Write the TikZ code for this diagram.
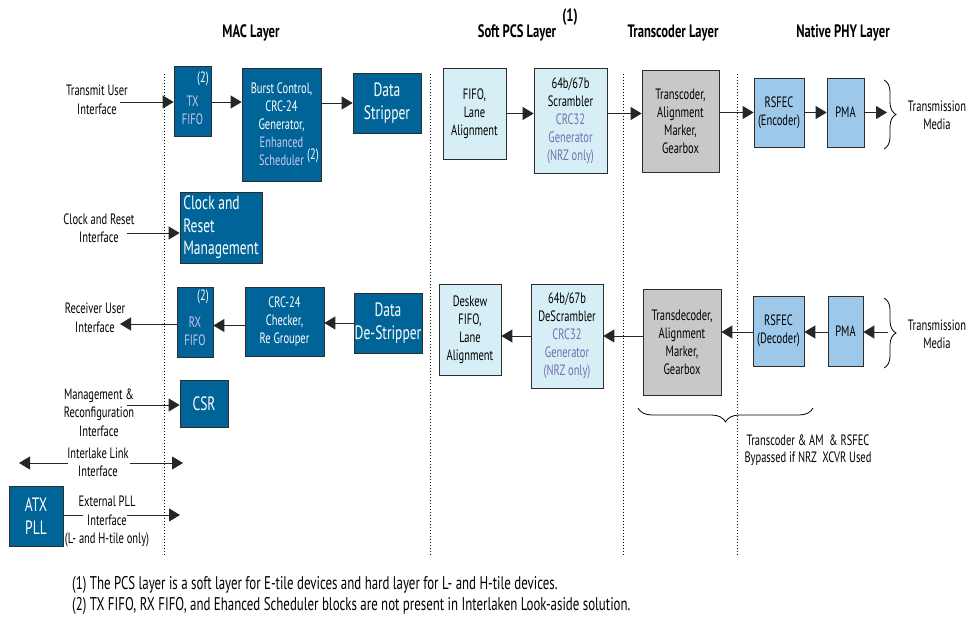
\documentclass[tikz,border=0pt]{standalone}
\usepackage{fontspec}
\setmainfont[FakeStretch=0.7]{PT Sans}
\usetikzlibrary{arrows.meta,decorations.pathreplacing}
\definecolor{dblue}{RGB}{0,100,152}
\definecolor{lcyan}{RGB}{214,238,246}
\definecolor{lgray}{RGB}{200,200,200}
\definecolor{lblue}{RGB}{158,200,234}
\definecolor{lav}{RGB}{204,198,236}
\definecolor{purp}{RGB}{112,112,176}
\definecolor{bord}{RGB}{45,45,45}
\newcommand\myboxfont{\fontsize{15}{18}\selectfont}
\newcommand\mybigfont{\fontsize{19.3}{22.5}\selectfont}
\newcommand\mylblfont{\fontsize{15}{18.5}\selectfont}
\newcommand\myhdfont{\fontsize{18}{18}\selectfont\bfseries}
\newcommand\myftfont{\fontsize{18.4}{21}\selectfont}
\begin{document}
\begin{tikzpicture}[x=1pt,y=-1pt,
  blk/.style={draw=bord, line width=0.8pt, inner sep=0pt, align=center, font=\myboxfont},
  dk/.style={blk, fill=dblue, text=white},
  dkbig/.style={dk, font=\mybigfont},
  lc/.style={blk, fill=lcyan, text=black},
  gy/.style={blk, fill=lgray, text=black},
  lb/.style={blk, fill=lblue, text=black},
  arr/.style={-{Triangle[length=11pt,width=13pt]}, line width=0.9pt, draw=black!85},
  plain/.style={line width=0.9pt, draw=black!85},
  lbl/.style={align=center, font=\mylblfont, inner sep=0pt},
  hdr/.style={font=\myhdfont, inner sep=0pt},
  sepline/.style={line width=0.8pt, dash pattern=on 1.3pt off 1.7pt},
  brc/.style={decorate, line width=0.8pt, decoration={brace, amplitude=12pt}}
]
\fill[white] (0,0) rectangle (971,617);
\path[use as bounding box] (0,0) rectangle (971,617);

% headers
\node[hdr] (hmac) at (251,33) {MAC Layer};
\node[hdr] (hpcs) at (517,33) {Soft PCS Layer};
\node[hdr] (hone) at (570,17) {(1)};
\node[hdr] (htr) at (673,33) {Transcoder Layer};
\node[hdr] (hphy) at (843,33) {Native PHY Layer};

% separators
\draw[sepline] (164,74) -- (164,556);
\draw[sepline] (430,74) -- (430,556);
\draw[sepline] (623,74) -- (623,556);
\draw[sepline] (737,74) -- (737,556);

% TX path
\node[dk, minimum width=37, minimum height=70, text=lav] (txfifo) at (192.5,101) {\vphantom{(}\\TX\\FIFO};
\node[inner sep=0pt, text=white, font=\myboxfont] (txn) at (203,79) {(2)};
\node[dk, minimum width=79, minimum height=113] (burst) at (281.5,124.5)
  {Burst Control,\\CRC-24\\Generator,\\\textcolor{lav}{Enhanced}\\\textcolor{lav}{Scheduler}\hspace{12pt}};
\node[inner sep=0pt, text=white, font=\myboxfont] (bn) at (313,156) {(2)};
\node[dkbig, minimum width=68, minimum height=60] (strip) at (387,103) {Data\\Stripper};
\node[lc, minimum width=63, minimum height=91] (fifo) at (474.5,113.5) {FIFO,\\Lane\\Alignment};
\node[lc, minimum width=73, minimum height=105] (scr) at (570.5,120.5)
  {64b/67b\\Scrambler\\\textcolor{purp}{CRC32}\\\textcolor{purp}{Generator}\\\textcolor{purp}{(NRZ only)}};
\node[gy, minimum width=77, minimum height=102] (trans) at (680.5,121)
  {Transcoder,\\Alignment\\Marker,\\Gearbox};
\node[lb, minimum width=50, minimum height=69] (rsenc) at (779,112.5) {RSFEC\\(Encoder)};
\node[lb, minimum width=37, minimum height=69] (pma) at (845.5,112.5) {PMA};

\coordinate (txin) at (120,102);
\coordinate (txout) at (887,112.5);
\draw[arr] (txin) -- (txin -| txfifo.west);
\draw[arr] (txin -| txfifo.east) -- (txin -| burst.west);
\draw[arr] (strip.west -| burst.east) -- (strip.west);
\draw[arr] (fifo.east) -- (fifo.east -| scr.west);
\draw[arr] (fifo.east -| scr.east) -- (fifo.east -| trans.west);
\draw[arr] (rsenc.west -| trans.east) -- (rsenc.west);
\draw[arr] (rsenc.east) -- (pma.west);
\draw[arr] (pma.east) -- (txout);

\draw[brc] (884,80) -- (884,149);
\node[lbl] (tm1) at (937,115.5) {Transmission\\Media};

% clock
\node[dkbig, minimum width=82, minimum height=71, align=left] (clk) at (221,227.5)
  {Clock and\\Reset\\Management};
\coordinate (clkin) at (127,233);
\draw[arr] (clkin) -- (clkin -| clk.west);
\node[lbl] (clkl) at (99,228.5) {Clock and Reset\\Interface};

% RX path
\node[dk, minimum width=36, minimum height=70, text=lav] (rxfifo) at (195,322) {\vphantom{(}\\RX\\FIFO};
\node[inner sep=0pt, text=white, font=\myboxfont] (rxn) at (203,297) {(2)};
\node[dk, minimum width=79, minimum height=69] (crc) at (284.5,321.5) {CRC-24\\Checker,\\Re Grouper};
\node[dkbig, minimum width=68, minimum height=60] (destrip) at (388,323) {Data\\De-Stripper};
\node[lc, minimum width=62, minimum height=91] (deskew) at (470,329.5) {Deskew\\FIFO,\\Lane\\Alignment};
\node[lc, minimum width=72, minimum height=104] (descr) at (567,336)
  {64b/67b\\DeScrambler\\\textcolor{purp}{CRC32}\\\textcolor{purp}{Generator}\\\textcolor{purp}{(NRZ only)}};
\node[gy, minimum width=78, minimum height=106] (tdec) at (682,342)
  {Transdecoder,\\Alignment\\Marker,\\Gearbox};
\node[lb, minimum width=51, minimum height=70] (rsdec) at (778.5,331) {RSFEC\\(Decoder)};
\node[lb, minimum width=35, minimum height=70] (pma2) at (845.5,331) {PMA};

\coordinate (rxin) at (888,332);
\coordinate (rxout) at (120,324);
\draw[arr] (rxin) -- (rxin -| pma2.east);
\draw[arr] (rxin -| pma2.west) -- (rxin -| rsdec.east);
\draw[arr] (rxin -| rsdec.west) -- (rxin -| tdec.east);
\draw[arr] (descr.east -| tdec.west) -- (descr.east);
\draw[arr] (descr.west) -- (descr.west -| deskew.east);
\draw[arr] (destrip.west) -- (destrip.west -| crc.east);
\draw[arr] ([yshift=-4pt]crc.west) -- ([yshift=-4pt]crc.west -| rxfifo.east);
\draw[arr] (rxout -| rxfifo.west) -- (rxout);

\draw[brc] (884,298) -- (884,368);
\node[lbl] (tm2) at (937,334.5) {Transmission\\Media};

\draw[brc, decoration={brace, amplitude=14pt}] (813,408) -- (638,408);
\node[lbl, font=\fontsize{15}{16.5}\selectfont] (byp) at (808,450) {Transcoder \& AM~~\& RSFEC\\Bypassed if NRZ~~XCVR Used};

\node[lbl] (txl) at (97,100) {Transmit User\\Interface};
\node[lbl] (rxl) at (95,318) {Receiver User\\Interface};

% CSR
\node[dkbig, minimum width=48, minimum height=47] (csr) at (204,403.5) {CSR};
\coordinate (csrin) at (127,405);
\draw[arr] (csrin) -- (csrin -| csr.west);
\node[lbl] (csrl) at (99,412.5) {Management \&\\Reconfiguration\\Interface};

% Interlake
\coordinate (ilL) at (19,463);
\coordinate (ilA) at (68,463);
\coordinate (ilB) at (130,463);
\coordinate (ilR) at (183,463);
\draw[arr] (ilA) -- (ilL);
\draw[arr] (ilB) -- (ilR);
\node[lbl] (ill) at (98,462.5) {Interlake Link\\Interface};

% ATX PLL
\node[dkbig, minimum width=54, minimum height=60] (atx) at (36,516) {ATX\\PLL};
\coordinate (atxA) at (83,515);
\coordinate (atxB) at (127,515);
\coordinate (atxC) at (180,515);
\draw[plain] (atxA -| atx.east) -- (atxA);
\draw[arr] (atxB) -- (atxC);
\node[lbl] (atxl) at (107,521.5) {External PLL\\Interface\\(L- and H-tile only)};

% footnotes
\node[anchor=west, inner sep=0pt, font=\myftfont] (fn1) at (72,585) {(1) The PCS layer is a soft layer for E-tile devices and hard layer for L- and H-tile devices.};
\node[anchor=west, inner sep=0pt, font=\myftfont] (fn2) at (72,606) {(2) TX FIFO, RX FIFO, and Ehanced Scheduler blocks are not present in Interlaken Look-aside solution.};
\end{tikzpicture}
\end{document}
